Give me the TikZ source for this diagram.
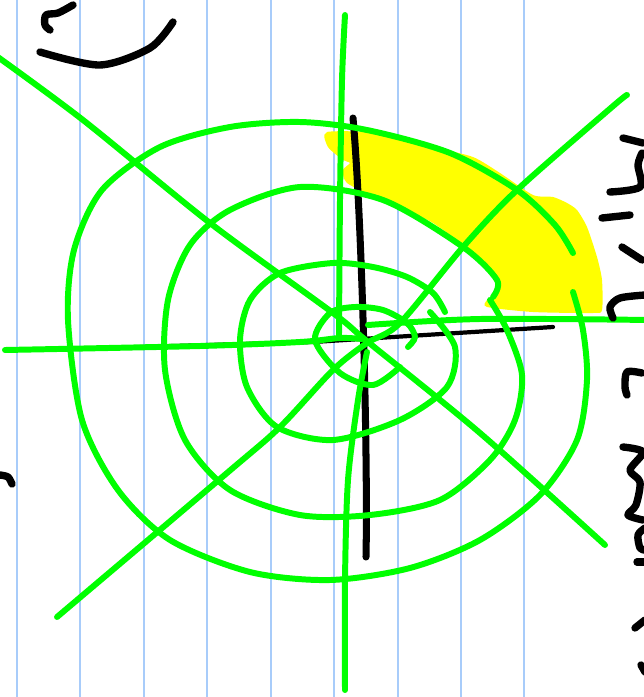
\documentclass[tikz,border=0pt]{standalone}
\usepackage{tikz}
\definecolor{webgreen}{HTML}{00FF00}
\definecolor{rulebl}{HTML}{A8CCFA}
\definecolor{hilite}{HTML}{FFFF00}

\begin{document}
\begin{tikzpicture}[x=0.02cm,y=-0.02cm,
  web/.style={draw=webgreen,line width=3.4pt,line cap=round,line join=round},
  ink/.style={draw=black,line width=4.2pt,line cap=round,line join=round}]
  \useasboundingbox (0,0) rectangle (643,697);
  \fill[white] (0,0) rectangle (643,697);
  \foreach \x in {17,80,144,207,271,334,398,461,524} \draw[rulebl,line width=1.2pt] (\x,0) -- (\x,697);
  % highlighted band
  \fill[hilite] plot[smooth cycle,tension=0.4] coordinates {(327,132) (380,133) (433,147) (473,157) (500,173) (533,195) (553,197) (567,203) (577,210) (587,227) (597,257) (602,280) (602,310) (593,313) (533,312) (487,307) (487,300) (497,293) (497,280) (480,260) (457,240) (433,223) (413,213) (380,200) (347,183) (343,170) (350,163) (343,160) (328,147)};
  % black axes
  \coordinate (T) at (353,118); \coordinate (Bt) at (366,557);
  \coordinate (L) at (140,347); \coordinate (M) at (313,342); \coordinate (R) at (553,327);
  \draw[ink,line width=4pt] (T) .. controls (362,220) and (368,460) .. (Bt);
  \draw[ink,line width=2.4pt] (L) -- (M) -- (R);
  % web spokes
  \draw[web] plot[smooth] coordinates {(345,15) (342,80) (340,200) (339,335)};
  \draw[web] plot[smooth] coordinates {(5,350) (200,346) (300,342) (340,338) (362,339)};
  \draw[web] plot[smooth] coordinates {(368,325) (480,319) (650,320)};
  \draw[web] plot[smooth] coordinates {(367,352) (358,400) (348,480) (345,580) (345,690)};
  \draw[web] plot[smooth] coordinates {(-5,55) (83,120) (210,223) (333,313) (368,342) (480,433) (605,545)};
  \draw[web] plot[smooth] coordinates {(627,95) (612,107) (517,190) (463,247) (400,323) (367,343) (333,370) (280,427) (227,473) (57,617)};
  % spiral
  \draw[web] plot[smooth] coordinates {(573,292) (583,330) (587,380) (577,440) (540,495) (480,540) (410,568) (330,580) (250,572) (170,540) (118,490) (82,420) (68,320) (74,250) (102,190) (160,147) (230,127) (300,122) (367,130) (450,153) (517,190) (555,225) (573,253)};
  \draw[web] plot[smooth] coordinates {(490,300) (507,330) (522,375) (515,420) (490,460) (440,500) (370,515) (300,515) (230,490) (185,440) (165,370) (168,300) (190,245) (230,210) (300,187) (383,200) (463,247) (497,280) (493,297)};
  \draw[web] plot[smooth] coordinates {(430,312) (455,347) (447,387) (400,420) (333,440) (277,427) (247,387) (240,340) (250,300) (280,273) (333,263) (373,267) (407,277) (433,293) (445,312)};
  \draw[web] plot[smooth] coordinates {(400,367) (373,385) (340,373) (315,340) (330,313) (355,307) (383,310) (407,323) (415,337) (408,347)};
  % pen marks
  \draw[ink] plot[smooth] coordinates {(40,52) (100,65) (150,48) (173,22)};
  \draw[ink] plot[smooth] coordinates {(73,5) (58,13) (46,15) (45,25) (50,30)};
  \draw[ink] plot[smooth] coordinates {(0,475) (8,477) (12,484)};
  \draw[ink] plot[smooth] coordinates {(623,138) (643,143)};
  \draw[ink] plot[smooth] coordinates {(642,153) (638,165) (640,187) (610,192)};
  \draw[ink] (602,218) -- (630,215);
  \draw[ink] (622,247) -- (642,260);
  \draw[ink] plot[smooth] coordinates {(645,295) (620,298) (610,307) (613,318)};
  \draw[ink] plot[smooth] coordinates {(642,373) (627,372) (625,387) (627,395)};
  \draw[ink] plot[smooth] coordinates {(623,447) (643,452) (630,470) (640,482) (636,505) (628,515) (643,520)};
  \draw[ink] plot[smooth] coordinates {(645,528) (638,535) (640,548) (645,550)};
  \draw[ink] (637,562) -- (645,562);
  \draw[ink] (635,628) -- (645,620);
  \draw[ink] (641,665) -- (645,672);
\end{tikzpicture}
\end{document}
